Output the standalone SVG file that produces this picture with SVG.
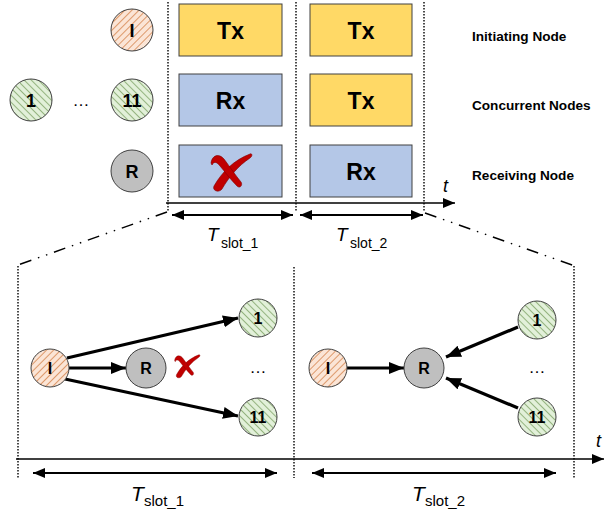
<svg xmlns="http://www.w3.org/2000/svg" width="604" height="512" viewBox="0 0 604 512">
<style>
.dot{stroke:#000;stroke-width:1.4;stroke-dasharray:1.5 1.5;fill:none}
.dd{stroke:#000;stroke-width:1.4;stroke-dasharray:12 7 1.5 7 1.5 7;fill:none}
.box{stroke:#404040;stroke-width:1}
.tx{fill:#FFD966}
.rx{fill:#B4C7E7}
.bt{font-family:"Liberation Sans",Arial,sans-serif;font-weight:bold;font-size:23px;text-anchor:middle;fill:#000}
.lbl{font-family:"Liberation Sans",Arial,sans-serif;font-weight:bold;font-size:13.6px;fill:#000}
.nt{font-family:"Liberation Sans",Arial,sans-serif;font-weight:bold;font-size:18px;text-anchor:middle;fill:#000}
.ns{font-family:"Liberation Sans",Arial,sans-serif;font-weight:bold;font-size:16px;text-anchor:middle;fill:#000}
.ell{font-family:"Liberation Sans",Arial,sans-serif;font-size:17px;text-anchor:middle;fill:#000}
.circ{stroke:#404040;stroke-width:1}
.ts{font-family:"Liberation Sans",Arial,sans-serif;font-style:italic;fill:#000}
.sub{font-family:"Liberation Sans",Arial,sans-serif;fill:#000}
.conn{stroke:#000;stroke-width:3.2;fill:none;marker-end:url(#ah)}
.dbl{stroke:#000;stroke-width:2;fill:none;marker-end:url(#ah2);marker-start:url(#ah2)}
.axis{stroke:#000;stroke-width:1.6;fill:none;marker-end:url(#ah3)}
.x{fill:#C00000;stroke:#7F0000;stroke-width:0.6}
</style>
<defs>
<pattern id="hO" width="5" height="5" patternUnits="userSpaceOnUse" patternTransform="rotate(45)">
<rect width="5" height="5" fill="#FBE5D6"/>
<line x1="0" y1="0" x2="0" y2="5" stroke="#C55A11" stroke-width="1.1"/>
</pattern>
<pattern id="hG" width="5" height="5" patternUnits="userSpaceOnUse" patternTransform="rotate(-45)">
<rect width="5" height="5" fill="#E2F0D9"/>
<line x1="0" y1="0" x2="0" y2="5" stroke="#548235" stroke-width="1.1"/>
</pattern>
<marker id="ah" markerUnits="userSpaceOnUse" markerWidth="16" markerHeight="13" refX="15" refY="6" orient="auto">
<path d="M0,0 L15,6 L0,12 Z" fill="#000"/>
</marker>
<marker id="ah2" markerUnits="userSpaceOnUse" markerWidth="13" markerHeight="11" refX="12" refY="5" orient="auto-start-reverse">
<path d="M0,0 L12,5 L0,10 Z" fill="#000"/>
</marker>
<marker id="ah3" markerUnits="userSpaceOnUse" markerWidth="13" markerHeight="11" refX="12" refY="5" orient="auto">
<path d="M0,0 L12,5 L0,10 Z" fill="#000"/>
</marker>
<g id="cross">
<path d="M214,186 C222,172 234,160 250,154 C252,153 253,156 250,158 C238,166 229,177 222,189 C219,193 212,191 214,186 Z"/>
<path d="M211,163 C212,155 219,153 224,159 C230,167 236,176 241,182 C243,185 240,189 237,186 C231,180 225,172 220,166 C217,162 214,161 212,165 Z"/>
</g>
</defs>

<g id="timeline-top">
<line class="dot" x1="168" y1="2" x2="168" y2="212"/>
<line class="dot" x1="296" y1="2" x2="296" y2="212"/>
<line class="dot" x1="424" y1="2" x2="424" y2="212"/>
<line class="axis" x1="166" y1="203" x2="455" y2="203"/>
<text class="ts" x="443" y="192" font-size="18">t</text>
<text class="ts" x="207" y="241" font-size="19">T</text><text class="sub" x="221" y="248" font-size="14">slot_1</text>
<text class="ts" x="336" y="241" font-size="19">T</text><text class="sub" x="350" y="248" font-size="14">slot_2</text>
</g>

<g id="slot1-boxes">
<rect class="box tx" x="179" y="4" width="103" height="52"/>
<text class="bt" x="230.5" y="39">Tx</text>
<rect class="box rx" x="179" y="74" width="103" height="52"/>
<text class="bt" x="230.5" y="109">Rx</text>
<rect class="box rx" x="179" y="145" width="103" height="52"/>
<use href="#cross" class="x"/>
</g>
<g id="slot2-boxes">
<rect class="box tx" x="310" y="4" width="102" height="52"/>
<text class="bt" x="361" y="39">Tx</text>
<rect class="box tx" x="310" y="74" width="102" height="52"/>
<text class="bt" x="361" y="109">Tx</text>
<rect class="box rx" x="310" y="145" width="102" height="52"/>
<text class="bt" x="361" y="180">Rx</text>
</g>

<g id="labels">
<text class="lbl" x="472" y="41">Initiating Node</text>
<text class="lbl" x="472" y="110">Concurrent Nodes</text>
<text class="lbl" x="472" y="180">Receiving Node</text>
</g>

<g id="top-node-I"><circle class="circ" cx="132" cy="30" r="21" fill="url(#hO)"/><text class="nt" x="132" y="37">I</text></g>
<g id="top-node-1"><circle class="circ" cx="31" cy="100" r="21" fill="url(#hG)"/><text class="nt" x="31" y="107">1</text></g>
<text class="ell" x="81" y="106">…</text>
<g id="top-node-11"><circle class="circ" cx="132" cy="100" r="21" fill="url(#hG)"/><text class="nt" x="132" y="107">11</text></g>
<g id="top-node-R"><circle class="circ" cx="132" cy="171" r="21" fill="#BFBFBF"/><text class="nt" x="132" y="178">R</text></g>

<g id="zoom-lines">
<line class="dd" x1="167" y1="212" x2="18" y2="265"/>
<line class="dd" x1="425" y1="213" x2="575" y2="266"/>
</g>

<g id="timeline-bottom">
<line class="dot" x1="18" y1="266" x2="18" y2="478"/>
<line class="dot" x1="294" y1="267" x2="294" y2="478"/>
<line class="dot" x1="574" y1="266" x2="574" y2="478"/>
<line class="axis" x1="16" y1="459" x2="604" y2="459"/>
<text class="ts" x="596" y="447" font-size="18">t</text>
<text class="ts" x="131" y="501" font-size="21">T</text><text class="sub" x="144" y="506" font-size="15">slot_1</text>
<text class="ts" x="412" y="501" font-size="21">T</text><text class="sub" x="425" y="506" font-size="15">slot_2</text>
</g>

<g id="connectors">
<line class="dbl" x1="172" y1="215" x2="293" y2="215"/>
<line class="dbl" x1="300" y1="215" x2="423" y2="215"/>
<line class="dbl" x1="33" y1="473" x2="277" y2="473"/>
<line class="dbl" x1="312" y1="473" x2="556" y2="473"/>
<line class="conn" x1="67" y1="358" x2="238" y2="318"/>
<line class="conn" x1="69" y1="368" x2="126" y2="368"/>
<line class="conn" x1="65" y1="379" x2="238" y2="416"/>
<line class="conn" x1="347" y1="368" x2="404" y2="368"/>
<line class="conn" x1="518" y1="327" x2="446" y2="357"/>
<line class="conn" x1="518" y1="408" x2="446" y2="378"/>
</g>

<g id="s1-node-I"><circle class="circ" cx="50" cy="368" r="19" fill="url(#hO)"/><text class="ns" x="50" y="374">I</text></g>
<g id="s1-node-R"><circle class="circ" cx="146" cy="368" r="20" fill="#BFBFBF"/><text class="ns" x="146" y="374">R</text></g>
<use href="#cross" class="x" transform="translate(187,366) scale(0.62) translate(-231,-172)"/>
<g id="s1-node-1"><circle class="circ" cx="258" cy="318" r="19" fill="url(#hG)"/><text class="ns" x="258" y="324">1</text></g>
<text class="ell" x="258" y="373">…</text>
<g id="s1-node-11"><circle class="circ" cx="258" cy="417" r="19" fill="url(#hG)"/><text class="ns" x="258" y="423">11</text></g>

<g id="s2-node-I"><circle class="circ" cx="328" cy="368" r="19" fill="url(#hO)"/><text class="ns" x="328" y="374">I</text></g>
<g id="s2-node-R"><circle class="circ" cx="424" cy="368" r="20" fill="#BFBFBF"/><text class="ns" x="424" y="374">R</text></g>
<g id="s2-node-1"><circle class="circ" cx="537" cy="320" r="19" fill="url(#hG)"/><text class="ns" x="537" y="326">1</text></g>
<text class="ell" x="537" y="373">…</text>
<g id="s2-node-11"><circle class="circ" cx="537" cy="417" r="19" fill="url(#hG)"/><text class="ns" x="537" y="423">11</text></g>
</svg>
